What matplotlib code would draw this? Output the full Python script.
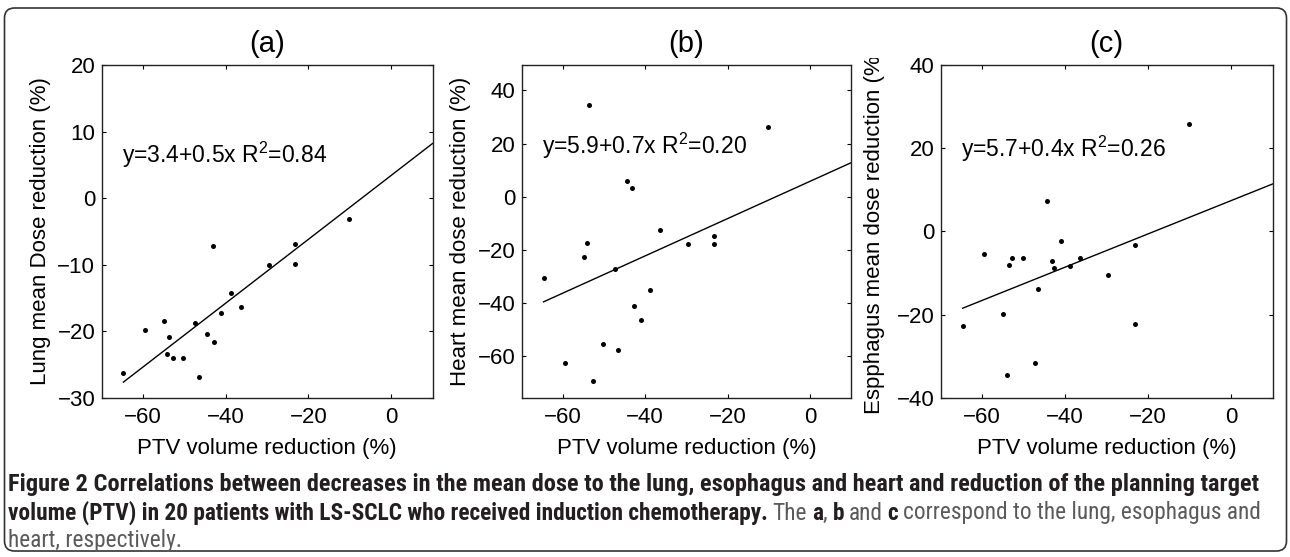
import matplotlib
matplotlib.use('Agg')
import matplotlib.pyplot as plt
import numpy as np
from matplotlib import font_manager
from matplotlib.patches import FancyBboxPatch
from matplotlib.transforms import Bbox, TransformedBbox, IdentityTransform

plt.rcParams['font.family'] = ['Liberation Sans', 'DejaVu Sans']
plt.rcParams['mathtext.fontset'] = 'custom'
plt.rcParams['mathtext.rm'] = 'Liberation Sans'
plt.rcParams['mathtext.it'] = 'Liberation Sans'

# PTV volume reduction (%) per patient (shared x for all panels)
ptv = [-64.7, -59.5, -54.9, -54.1, -53.6, -52.8, -50.2, -47.3, -46.5, -44.4,
       -43.1, -42.7, -41.0, -38.8, -36.4, -29.6, -23.3, -23.3, -10.2]
# mean dose reductions (%)
lung = [-26.3, -19.8, -18.5, -23.5, -20.9, -24.0, -24.0, -18.8, -26.9, -20.4,
        -7.2, -21.7, -17.2, -14.3, -16.4, -10.1, -6.9, -9.9, -3.2]
heart = [-30.5, -62.6, -22.6, -17.2, 34.6, -69.2, -55.4, -27.1, -57.4, 5.8,
         3.1, -41.0, -46.2, -35.0, -12.6, -17.9, -14.6, -17.9, 26.1]
esoph = [-22.7, -5.5, -19.8, -34.6, -8.0, -6.3, -6.3, -31.6, -13.9, 7.2,
         -7.2, -8.9, -2.4, -8.4, -6.3, -10.5, -3.4, -22.3, 25.8]

# regression lines as drawn (intercept, slope)
fit_lung = (3.4, 0.48)
fit_heart = (5.8, 0.70)
fit_esoph = (7.4, 0.40)

eq_texts = ['y=3.4+0.5x R$^2$=0.84', 'y=5.9+0.7x R$^2$=0.20', 'y=5.7+0.4x R$^2$=0.26']
titles = ['(a)', '(b)', '(c)']
ylabels = ['Lung mean Dose reduction (%)', 'Heart mean dose reduction (%)',
           'Espphagus mean dose reduction (%)']
xlabel = 'PTV volume reduction (%)'

W, H = 1290, 557
fig = plt.figure(figsize=(W / 100, H / 100), dpi=100)

panels = [
    dict(y=lung, fit=fit_lung, left=101.5, width=331, ylim=(-30, 20), yticks=[-30, -20, -10, 0, 10, 20],
         eq_y=5.3, lab_x=-0.183),
    dict(y=heart, fit=fit_heart, left=521.7, width=329.5, ylim=(-75.5, 49.5), yticks=[-60, -40, -20, 0, 20, 40],
         eq_y=16.0, lab_x=-0.187),
    dict(y=esoph, fit=fit_esoph, left=940.7, width=332, ylim=(-40, 40), yticks=[-40, -20, 0, 20, 40],
         eq_y=18.0, lab_x=-0.198),
]

top, bottom = 65, 397.7
x = np.array(ptv)
for i, p in enumerate(panels):
    ax = fig.add_axes([p['left'] / W, 1 - bottom / H, p['width'] / W, (bottom - top) / H])
    ax.plot(x, p['y'], 'o', color='black', ms=3.6, mew=0)
    xs = np.array([x.min(), 10])
    ax.plot(xs, p['fit'][0] + p['fit'][1] * xs, color='black', lw=1.0)
    ax.set_xlim(-70, 10)
    ax.set_ylim(*p['ylim'])
    ax.set_xticks([-60, -40, -20, 0])
    ax.set_yticks(p['yticks'])
    ax.tick_params(direction='in', top=True, right=True, length=2.8, width=0.8,
                   labelsize=16, colors='black')
    ax.tick_params(axis='x', pad=7)
    ax.tick_params(axis='y', pad=4.5)
    for s in ax.spines.values():
        s.set_linewidth(1.0)
        s.set_color('#222222')
    ax.text(-65, p['eq_y'], eq_texts[i], fontsize=16.5, va='baseline', ha='left')
    ax.text(0.5, 1.063, titles[i], transform=ax.transAxes, fontsize=21, ha='center', va='center')
    ax.set_xlabel(xlabel, fontsize=16, va='center')
    ax.xaxis.set_label_coords(0.5, -0.153)
    ax.set_ylabel(ylabels[i], fontsize=16, va='center')
    ax.yaxis.set_label_coords(p['lab_x'], 0.5)
    if i == 2:
        clip = TransformedBbox(Bbox.from_extents(0, 0, 1, 1 - 58 / H), fig.transFigure)
        ax.yaxis.label.set_clip_box(clip)
        ax.yaxis.label.set_clip_on(True)

# outer rounded frame
frame = FancyBboxPatch((4.5, H - 551), 1282, 543, boxstyle='round,pad=0,rounding_size=10',
                       transform=IdentityTransform(), fill=False, ec='#333333', lw=1.2)
fig.add_artist(frame)

# caption (condensed family if one is installed)
names = {f.name for f in font_manager.fontManager.ttflist}
cap_family = ['Liberation Sans']
for cand in ['Liberation Sans Narrow', 'Roboto Condensed', 'Open Sans Condensed', 'Noto Sans Condensed']:
    if cand in names:
        cap_family = [cand]
        break
r = fig.canvas.get_renderer()
bold_col, reg_col = '#231f20', '#5a5a5a'

line1 = [('Figure 2 Correlations between decreases in the mean dose to the lung, esophagus and heart '
          'and reduction of the planning target', True)]
line2 = [('volume (PTV) in 20 patients with LS-SCLC who received induction chemotherapy.', True),
         (' The ', False), ('a', True), (', ', False), ('b', True), (' and ', False), ('c', True),
         (' correspond to the lung, esophagus and', False)]
line3 = [('heart, respectively.', False)]


def measure(s, bold, fs):
    t = fig.text(0, 0, s, fontsize=fs, family=cap_family,
                 fontweight='bold' if bold else 'normal')
    w = t.get_window_extent(r).width
    t.remove()
    return w


def put_line(yc, parts, fs, draw=True):
    sp = {b: 0.9 * (measure('a a', b, fs) - measure('aa', b, fs)) for b in (True, False)}
    xp = 8
    for s, bold in parts:
        xp += (len(s) - len(s.lstrip(' '))) * sp[bold]
        t = fig.text(xp / W, 1 - yc / H, s.strip(' '), fontsize=fs, family=cap_family,
                     fontweight='bold' if bold else 'normal',
                     color=bold_col if bold else reg_col, va='center', ha='left')
        xp = t.get_window_extent(r).x1
        xp += (len(s) - len(s.rstrip(' '))) * sp[bold]
        if not draw:
            t.remove()
    return xp - 8


fs0 = 14
fs1 = fs0 * 1262 / put_line(485, line1, fs0, draw=False)
fs2 = fs0 * 1262 / put_line(513, line2, fs0, draw=False)
fs2 = min(fs1, fs2)

put_line(485, line1, fs1)
put_line(513, line2, fs2)
put_line(541, line3, fs2)

fig.savefig('out.png', dpi=100)
